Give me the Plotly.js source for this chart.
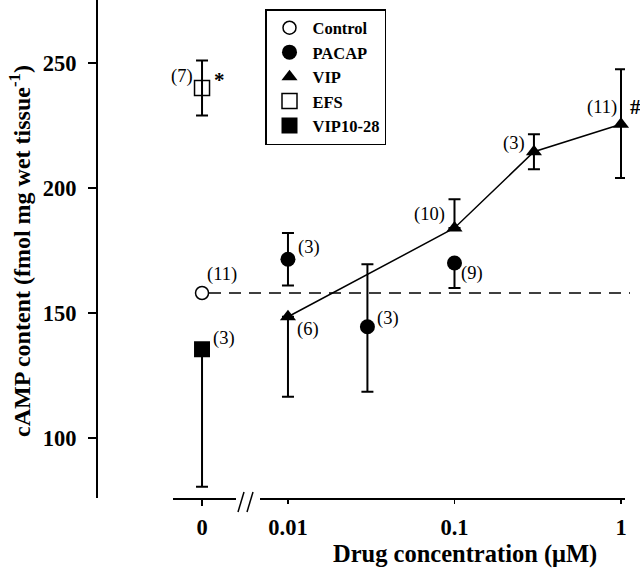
<!DOCTYPE html>
<html><head><meta charset="utf-8">
<script src="https://cdn.plot.ly/plotly-3.0.1.min.js"></script>
<style>html,body{margin:0;padding:0;background:#fff}</style>
</head><body><div id="chart" style="width:640px;height:569px"></div>
<script>
// ---- data ----
const controlX = [0];
const controlY = [158];
const controlN = '(11)';

const efsX = [0];
const efsY = [240];
const efsErrPlus = [11];
const efsErrMinus = [11];

const antX = [0];
const antY = [135.5];
const antErrPlus = [0];
const antErrMinus = [55];

const pacapX = [0.01, 0.03, 0.1];
const pacapY = [171.5, 144.5, 170];
const pacapErrPlus = [10.5, 25, 0];
const pacapErrMinus = [10.5, 26, 10];
const pacapN = ['(3)', '(3)', '(9)'];

const vipX = [0.01, 0.1, 0.3, 1];
const vipY = [148.5, 184, 214.5, 225.5];
const vipErrPlus = [0, 11.5, 7, 22];
const vipErrMinus = [32, 0, 7, 21.5];
const vipN = ['(6)', '(10)', '(3)', '(11)'];

const xTicksLog = [0.01, 0.1, 1];
const xTickTextLog = ['0.01', '0.1', '1'];
const yTicks = [100, 150, 200, 250];

// ---- styling ----
const SERIF = 'Liberation Serif, Times New Roman, serif';
const err = (plus, minus) => ({type: 'data', symmetric: false, array: plus, arrayminus: minus,
  color: 'black', thickness: 2, width: 6});

const traces = [
  {name: 'Control', x: controlX, y: controlY, xaxis: 'x', yaxis: 'y', mode: 'markers', cliponaxis: false,
   marker: {symbol: 'circle-open', size: 13, color: 'black', line: {width: 1.5}}},
  {name: 'PACAP', x: pacapX, y: pacapY, xaxis: 'x2', yaxis: 'y', mode: 'markers', cliponaxis: false,
   error_y: err(pacapErrPlus, pacapErrMinus),
   marker: {symbol: 'circle', size: 15, color: 'black'}},
  {name: 'VIP line', x: vipX, y: vipY, xaxis: 'x2', yaxis: 'y', mode: 'lines', showlegend: false,
   line: {color: 'black', width: 1.5}, hoverinfo: 'skip'},
  {name: 'VIP', x: vipX, y: vipY, xaxis: 'x2', yaxis: 'y', mode: 'markers', cliponaxis: false,
   error_y: err(vipErrPlus, vipErrMinus),
   marker: {symbol: 'triangle-up', size: 14, color: 'black'}},
  {name: 'EFS', x: efsX, y: efsY, xaxis: 'x', yaxis: 'y', mode: 'markers', cliponaxis: false,
   error_y: err(efsErrPlus, efsErrMinus),
   marker: {symbol: 'square-open', size: 15, color: 'black', line: {width: 1.5}}},
  {name: 'VIP10-28', x: antX, y: antY, xaxis: 'x', yaxis: 'y', mode: 'markers', cliponaxis: false,
   error_y: err(antErrPlus, antErrMinus),
   marker: {symbol: 'square', size: 16, color: 'black'}}
];

const annFont = {family: SERIF, size: 18.5, color: 'black'};
function lab(text, xref, x, y, dx, dy, font) {
  return {text: text, xref: xref, yref: 'y', x: x, y: y, xshift: dx, yshift: dy,
    showarrow: false, font: font || annFont, xanchor: 'center', yanchor: 'middle'};
}
const L = Math.log10;
const boldStar = {family: SERIF, size: 21, color: 'black', weight: 'bold'};
const annotations = [
  lab('(7)', 'x', efsX[0], efsY[0], -20, 12),
  lab('*', 'x', efsX[0], efsY[0], 17, 8, boldStar),
  lab(controlN, 'x', controlX[0], controlY[0], 20, 19),
  lab('(3)', 'x', antX[0], antY[0], 22, 11),
  lab(pacapN[0], 'x2', L(pacapX[0]), pacapY[0], 21, 12),
  lab(pacapN[1], 'x2', L(pacapX[1]), pacapY[1], 21, 8),
  lab(pacapN[2], 'x2', L(pacapX[2]), pacapY[2], 18, -10),
  lab(vipN[0], 'x2', L(vipX[0]), vipY[0], 20, -13),
  lab(vipN[1], 'x2', L(vipX[1]), vipY[1], -25, 14),
  lab(vipN[2], 'x2', L(vipX[2]), vipY[2], -20, 8),
  lab(vipN[3], 'x2', L(vipX[3]), vipY[3], -19, 17),
  lab('#', 'x2', L(vipX[3]), vipY[3], 14, 17, boldStar),
  {text: 'cAMP content (fmol mg wet tissue<sup>-1</sup>)', xref: 'paper', yref: 'paper',
   x: 0, y: 1 - 251 / 498, xshift: -76, textangle: -90, showarrow: false,
   font: {family: SERIF, size: 24, color: 'black', weight: 'bold'}, xanchor: 'center', yanchor: 'middle'},
  {text: 'Drug concentration (μM)', xref: 'paper', yref: 'paper',
   x: (465 - 96) / 529, y: 0, yshift: -56, showarrow: false,
   font: {family: SERIF, size: 24.5, color: 'black', weight: 'bold'}, xanchor: 'center', yanchor: 'middle'}
];

const tickFont = {family: SERIF, size: 22.5, color: 'black', weight: 'bold'};
const W = 529;
const layout = {
  width: 640, height: 569,
  margin: {l: 96, r: 15, t: 0, b: 71},
  paper_bgcolor: 'white', plot_bgcolor: 'white',
  font: {family: SERIF, color: 'black'},
  showlegend: true,
  legend: {x: (265 - 96) / W, y: 1 - 9 / 498, xanchor: 'left', yanchor: 'top',
    bordercolor: 'black', borderwidth: 1.5, bgcolor: 'white', itemwidth: 36,
    font: {family: SERIF, size: 16.5, color: 'black', weight: 'bold'}, itemsizing: 'trace'},
  xaxis: {domain: [(173 - 96) / W, (236 - 96) / W], range: [-1, 1.17], type: 'linear',
    tickvals: [0], ticktext: ['0'], showline: true, linewidth: 1.5, linecolor: 'black',
    ticks: 'outside', ticklen: 6, tickwidth: 1.5, tickcolor: 'black', showgrid: false, zeroline: false,
    tickfont: tickFont, anchor: 'y', ticklabelstandoff: 2},
  xaxis2: {domain: [(260 - 96) / W, 1], type: 'log', range: [-2.168, 0.024],
    tickvals: xTicksLog, ticktext: xTickTextLog, showline: true, linewidth: 1.5, linecolor: 'black',
    ticks: 'outside', ticklen: 4, tickwidth: 1.5, tickcolor: 'black', showgrid: false, zeroline: false,
    tickfont: tickFont, anchor: 'y', ticklabelstandoff: 4},
  yaxis: {range: [76, 275.2], tickvals: yTicks, showline: true, linewidth: 1.5, linecolor: 'black',
    anchor: 'free', position: 0,
    ticks: 'outside', ticklen: 8, tickwidth: 1.5, tickcolor: 'black', showgrid: false, zeroline: false,
    tickfont: tickFont, ticklabelstandoff: 7},
  shapes: [
    {type: 'line', xref: 'paper', yref: 'y', x0: (209 - 96) / W, x1: (630 - 96) / W,
     y0: controlY[0], y1: controlY[0], line: {color: 'black', width: 1.5, dash: '12px,8px'}},
    // axis break marks "//"
    {type: 'line', xref: 'paper', yref: 'paper', x0: (238 - 96) / W, x1: (244 - 96) / W,
     y0: -14 / 498, y1: 6 / 498, line: {color: 'black', width: 1.5}},
    {type: 'line', xref: 'paper', yref: 'paper', x0: (247 - 96) / W, x1: (253 - 96) / W,
     y0: -14 / 498, y1: 6 / 498, line: {color: 'black', width: 1.5}}
  ],
  annotations: annotations
};

Plotly.newPlot('chart', traces, layout, {staticPlot: true});
</script></body></html>
